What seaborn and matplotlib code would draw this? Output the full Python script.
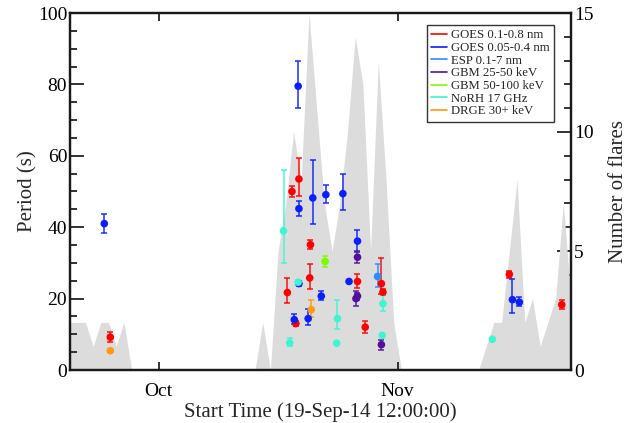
import numpy as np
import pandas as pd
import matplotlib
matplotlib.use("Agg")
import matplotlib.pyplot as plt
import matplotlib.dates as mdates
from matplotlib.lines import Line2D
from matplotlib.ticker import MultipleLocator
import seaborn as sns

START = pd.Timestamp("2014-09-19 12:00:00")
N_DAYS = 65

# Daily number of flares, one value per day counted from START
flare_count = [2, 2, 2, 1, 2, 2, 1, 2, 0,
               0, 0, 0, 0, 0, 0, 0, 0, 0, 0, 0, 0, 0, 0, 0,
               0, 2, 0, 5, 7, 10, 8, 15, 11, 7, 5, 7, 10, 14, 12, 5, 13, 8, 2, 0,
               0, 0, 0, 0, 0, 0, 0, 0, 0,
               0, 1, 2, 2, 5, 8, 2, 3, 1, 2, 3, 7, 3]

# Periods per instrument: start time (days after START), period (s), lower / upper error
goes_long_t = [5.23, 28.2, 28.8, 29.7, 29.3, 31.2, 31.1, 37.3, 38.3, 40.4, 40.6, 57.0, 63.8]
goes_long_p = [9.2, 21.7, 50.0, 53.5, 13.0, 35.1, 25.8, 24.8, 12.0, 24.2, 21.8, 26.8, 18.3]
goes_long_lo = [1.4, 3.0, 1.6, 4.9, 0.8, 1.3, 3.0, 1.8, 1.5, 2.8, 0.8, 1.1, 1.3]
goes_long_hi = [1.4, 4.0, 1.6, 6.0, 0.8, 1.4, 3.8, 2.0, 1.7, 7.1, 0.8, 0.9, 1.4]

goes_short_t = [4.45, 29.6, 29.7, 31.5, 33.2, 35.4, 37.3, 29.7, 32.6, 30.9, 29.1, 36.2, 57.4, 58.3]
goes_short_p = [41.0, 79.5, 45.2, 48.2, 49.1, 49.4, 36.1, 24.2, 20.7, 14.4, 14.1, 24.8, 19.7, 19.0]
goes_short_lo = [2.7, 6.2, 2.0, 7.4, 2.3, 4.5, 3.1, 0.8, 1.0, 1.9, 1.3, 0.5, 3.7, 1.1]
goes_short_hi = [2.8, 7.0, 2.1, 10.7, 2.6, 5.4, 3.2, 0.8, 1.3, 2.7, 1.7, 0.5, 5.9, 1.4]

esp_t = [39.9]
esp_p = [26.2]
esp_lo = [3.0]
esp_hi = [3.6]

gbm_low_t = [37.3, 37.1, 37.3, 40.4]
gbm_low_p = [31.6, 20.0, 20.7, 7.1]
gbm_low_lo = [1.5, 2.0, 1.0, 1.4]
gbm_low_hi = [1.6, 2.2, 1.0, 1.4]

gbm_high_t = [33.1]
gbm_high_p = [30.4]
gbm_high_lo = [1.6]
gbm_high_hi = [1.5]

norh_t = [27.7, 29.6, 28.5, 34.7, 34.6, 40.6, 40.5, 54.8]
norh_p = [39.0, 24.6, 7.6, 14.4, 7.5, 18.6, 9.7, 8.6]
norh_lo = [9.1, 0.7, 1.0, 2.9, 0.0, 2.2, 0.0, 0.0]
norh_hi = [16.9, 0.7, 1.4, 5.1, 0.0, 2.5, 0.0, 0.0]

drge_t = [5.23, 31.3]
drge_p = [5.4, 16.9]
drge_lo = [0.4, 2.1]
drge_hi = [0.4, 2.6]

instruments = ["GOES 0.1-0.8 nm", "GOES 0.05-0.4 nm", "ESP 0.1-7 nm",
               "GBM 25-50 keV", "GBM 50-100 keV", "NoRH 17 GHz", "DRGE 30+ keV"]
colors = ["#ff0000", "#0a1eff", "#2b8cff", "#52109a", "#7cfc00", "#3ef5d2", "#ff9a10"]

series = [
    (goes_long_t, goes_long_p, goes_long_lo, goes_long_hi),
    (goes_short_t, goes_short_p, goes_short_lo, goes_short_hi),
    (esp_t, esp_p, esp_lo, esp_hi),
    (gbm_low_t, gbm_low_p, gbm_low_lo, gbm_low_hi),
    (gbm_high_t, gbm_high_p, gbm_high_lo, gbm_high_hi),
    (norh_t, norh_p, norh_lo, norh_hi),
    (drge_t, drge_p, drge_lo, drge_hi),
]

frames = []
for name, (t, p, lo, hi) in zip(instruments, series):
    frames.append(pd.DataFrame({
        "time": START + pd.to_timedelta(t, unit="D"),
        "period": p, "lo": lo, "hi": hi, "instrument": name}))
events = pd.concat(frames, ignore_index=True)

flares = pd.DataFrame({
    "time": START + pd.to_timedelta(np.arange(len(flare_count)), unit="D"),
    "count": flare_count})

sns.set_theme(style="ticks")
plt.rcParams["font.family"] = ["Liberation Serif", "DejaVu Serif"]

fig = plt.figure(figsize=(6.44, 4.23), dpi=100)
ax = fig.add_axes([70 / 644, 1 - 370 / 423, 501 / 644, 357 / 423])
ax2 = ax.twinx()

# flare counts as a grey area behind the period measurements
ax2.fill_between(flares["time"], 0, flares["count"], color="#dcdcdc", lw=0, zorder=1)
ax2.set_ylim(0, 15)
ax.set_zorder(ax2.get_zorder() + 1)
ax.patch.set_visible(False)

palette = dict(zip(instruments, colors))
for name in instruments:
    d = events[events["instrument"] == name]
    ax.errorbar(d["time"], d["period"], yerr=[d["lo"], d["hi"]], fmt="none",
                ecolor=palette[name], elinewidth=1.2, capsize=2.2, capthick=1.2,
                alpha=0.85, zorder=2)
sns.scatterplot(data=events, x="time", y="period", hue="instrument",
                palette=palette, s=30, linewidth=0, legend=False, ax=ax, zorder=3)

ax.set_xlim(START, START + pd.Timedelta(days=N_DAYS))
ax.set_ylim(0, 100)
ax.xaxis.set_major_locator(mdates.MonthLocator())
ax.xaxis.set_major_formatter(mdates.DateFormatter("%b"))
ax.yaxis.set_major_locator(MultipleLocator(20))
ax.yaxis.set_minor_locator(MultipleLocator(5))
ax2.yaxis.set_major_locator(MultipleLocator(5))
ax2.yaxis.set_minor_locator(MultipleLocator(1))

ax.tick_params(axis="both", which="both", direction="in", colors="#222222",
               labelcolor="black", labelsize=14, width=1.3)
ax.tick_params(axis="x", which="major", length=6, top=True, pad=9)
ax.tick_params(axis="y", which="major", length=10, right=False, pad=2)
ax.tick_params(axis="y", which="minor", length=5, right=False)
ax2.tick_params(axis="y", which="both", direction="in", colors="#222222",
                labelcolor="black", labelsize=14, width=1.3)
ax2.tick_params(axis="y", which="major", length=10, pad=2)
ax2.tick_params(axis="y", which="minor", length=5)

for a in (ax, ax2):
    for sp in a.spines.values():
        sp.set_linewidth(1.6)
        sp.set_color("#1a1a1a")

ax.set_xlabel("Start Time (19-Sep-14 12:00:00)", fontsize=15, labelpad=2)
ax.set_ylabel("Period (s)", fontsize=15, labelpad=0)
ax2.set_ylabel("Number of flares", fontsize=15, labelpad=11)

handles = [Line2D([0], [0], color=c, lw=1.2) for c in colors]
leg = ax.legend(handles, instruments, loc="upper left",
                bbox_to_anchor=(357 / 501, 345 / 357), borderaxespad=0,
                fontsize=9.2, handlelength=1.2, handletextpad=0.3,
                labelspacing=0.05, borderpad=0.35, fancybox=False,
                frameon=True, edgecolor="black")
leg.get_frame().set_linewidth(1.0)

fig.savefig("out.png", dpi=100)
